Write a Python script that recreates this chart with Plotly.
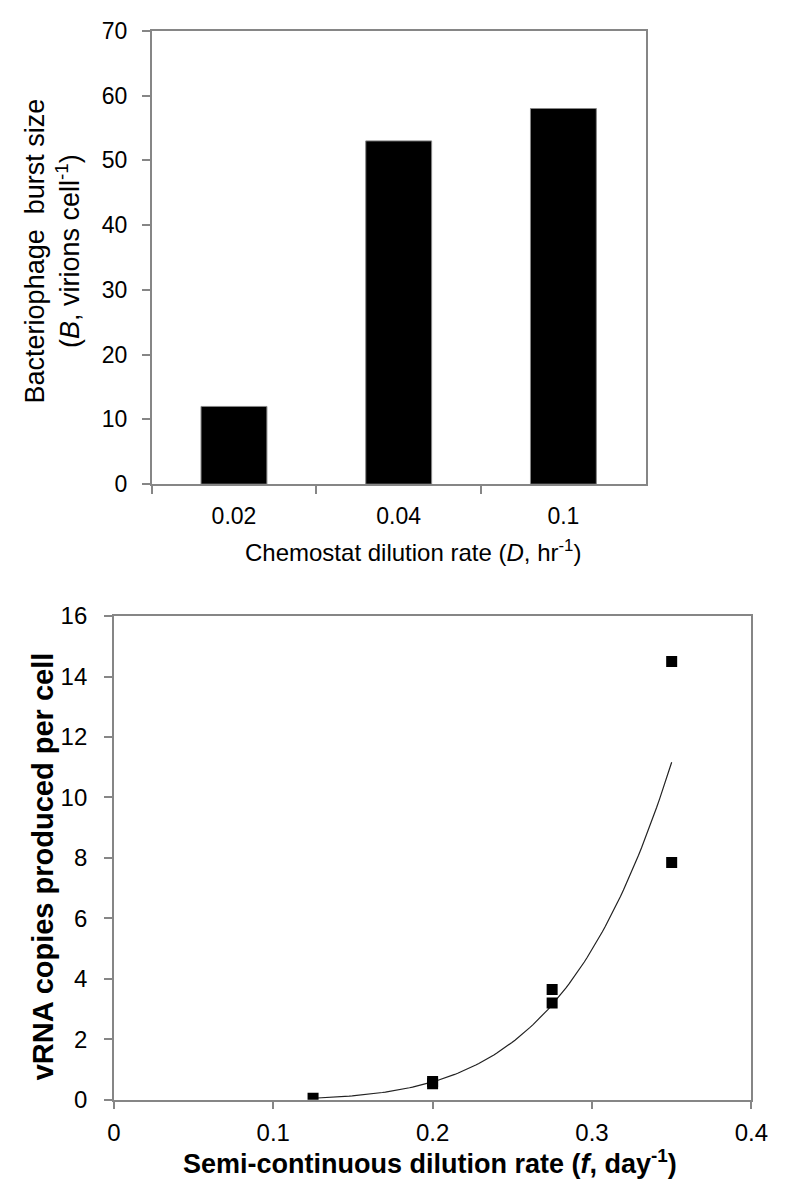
import numpy as np
import plotly.graph_objects as go

# ---- data: top panel (bar chart) ----
dilution_labels = ["0.02", "0.04", "0.1"]
burst_size = [12, 53, 58]

# ---- data: bottom panel (scatter + power trendline) ----
semi_f = [0.125, 0.2, 0.2, 0.275, 0.275, 0.35, 0.35]
vrna_copies = [0.05, 0.53, 0.6, 3.65, 3.2, 14.5, 7.85]

# page is 788x1195; the html body has an 8px margin, so the figure is
# offset by 8px and sized to fit inside the window.
PAGE_MARGIN = 8
W, H = 788 - 2 * PAGE_MARGIN, 1195 - 2 * PAGE_MARGIN
FONT = "Liberation Sans, Arial, sans-serif"
AXIS_COLOR = "#868686"

def px_x(p):
    return (p - PAGE_MARGIN) / W

def px_y(p):
    return 1 - (p - PAGE_MARGIN) / H

# power-law trendline fitted to the data (log-log regression)
lx = np.log(np.array(semi_f))
ly = np.log(np.array(vrna_copies))
b, ln_a = np.polyfit(lx, ly, 1)
fit_x = np.linspace(min(semi_f), max(semi_f), 120)
fit_y = np.exp(ln_a) * fit_x ** b

fig = go.Figure()

fig.add_trace(go.Bar(
    x=dilution_labels, y=burst_size, width=0.4,
    marker=dict(color="black", line=dict(color=AXIS_COLOR, width=1)),
    xaxis="x", yaxis="y", showlegend=False,
))

fig.add_trace(go.Scatter(
    x=fit_x, y=fit_y, mode="lines",
    line=dict(color="#222222", width=1.2),
    xaxis="x2", yaxis="y2", showlegend=False,
))

fig.add_trace(go.Scatter(
    x=semi_f, y=vrna_copies, mode="markers",
    marker=dict(symbol="square", size=11, color="black"),
    xaxis="x2", yaxis="y2", showlegend=False,
))

axis_common = dict(
    showline=True, linecolor=AXIS_COLOR, linewidth=1.5, mirror=True,
    ticks="outside", tickcolor=AXIS_COLOR, ticklen=8, tickwidth=1.5,
    showgrid=False, zeroline=False,
)

fig.update_layout(
    width=W, height=H,
    margin=dict(l=0, r=0, t=0, b=0),
    paper_bgcolor="white", plot_bgcolor="white",
    font=dict(family=FONT, color="black"),
    xaxis=dict(
        domain=[px_x(149), px_x(659)], anchor="y",
        type="category", tickson="boundaries",
        tickfont=dict(size=23), ticklabelstandoff=10,
        **axis_common,
    ),
    yaxis=dict(
        domain=[px_y(481), px_y(17)], anchor="x",
        range=[0, 70], dtick=10, tickfont=dict(size=23),
        ticklabelstandoff=10,
        **axis_common,
    ),
    xaxis2=dict(
        domain=[px_x(110), px_x(768)], anchor="y2",
        range=[0, 0.4], dtick=0.1, tickfont=dict(size=24),
        ticklabelstandoff=3, ticklabeloverflow="allow",
        **axis_common,
    ),
    yaxis2=dict(
        domain=[px_y(1111), px_y(616)], anchor="x2",
        range=[0, 16], dtick=2, tickfont=dict(size=24),
        ticklabelstandoff=12,
        **axis_common,
    ),
)

annotations = [
    dict(text="Bacteriophage\u00a0\u00a0burst size<br>(<i>B</i>, virions cell<sup>-1</sup>)",
         x=px_x(47), y=px_y(242), textangle=-90, font=dict(size=27)),
    dict(text="Chemostat dilution rate (<i>D</i>, hr<sup>-1</sup>)",
         x=px_x(419), y=px_y(549), font=dict(size=24)),
    dict(text="<b>vRNA copies produced per cell</b>",
         x=px_x(37), y=px_y(872), textangle=-90, font=dict(size=29)),
    dict(text="<b>Semi-continuous dilution rate (<i>f</i>, day<sup>-1</sup>)</b>",
         x=px_x(436), y=px_y(1175), font=dict(size=27)),
]
for a in annotations:
    a.update(xref="paper", yref="paper", showarrow=False,
             xanchor="center", yanchor="middle")
fig.update_layout(annotations=annotations)

fig.write_html("out.html")
